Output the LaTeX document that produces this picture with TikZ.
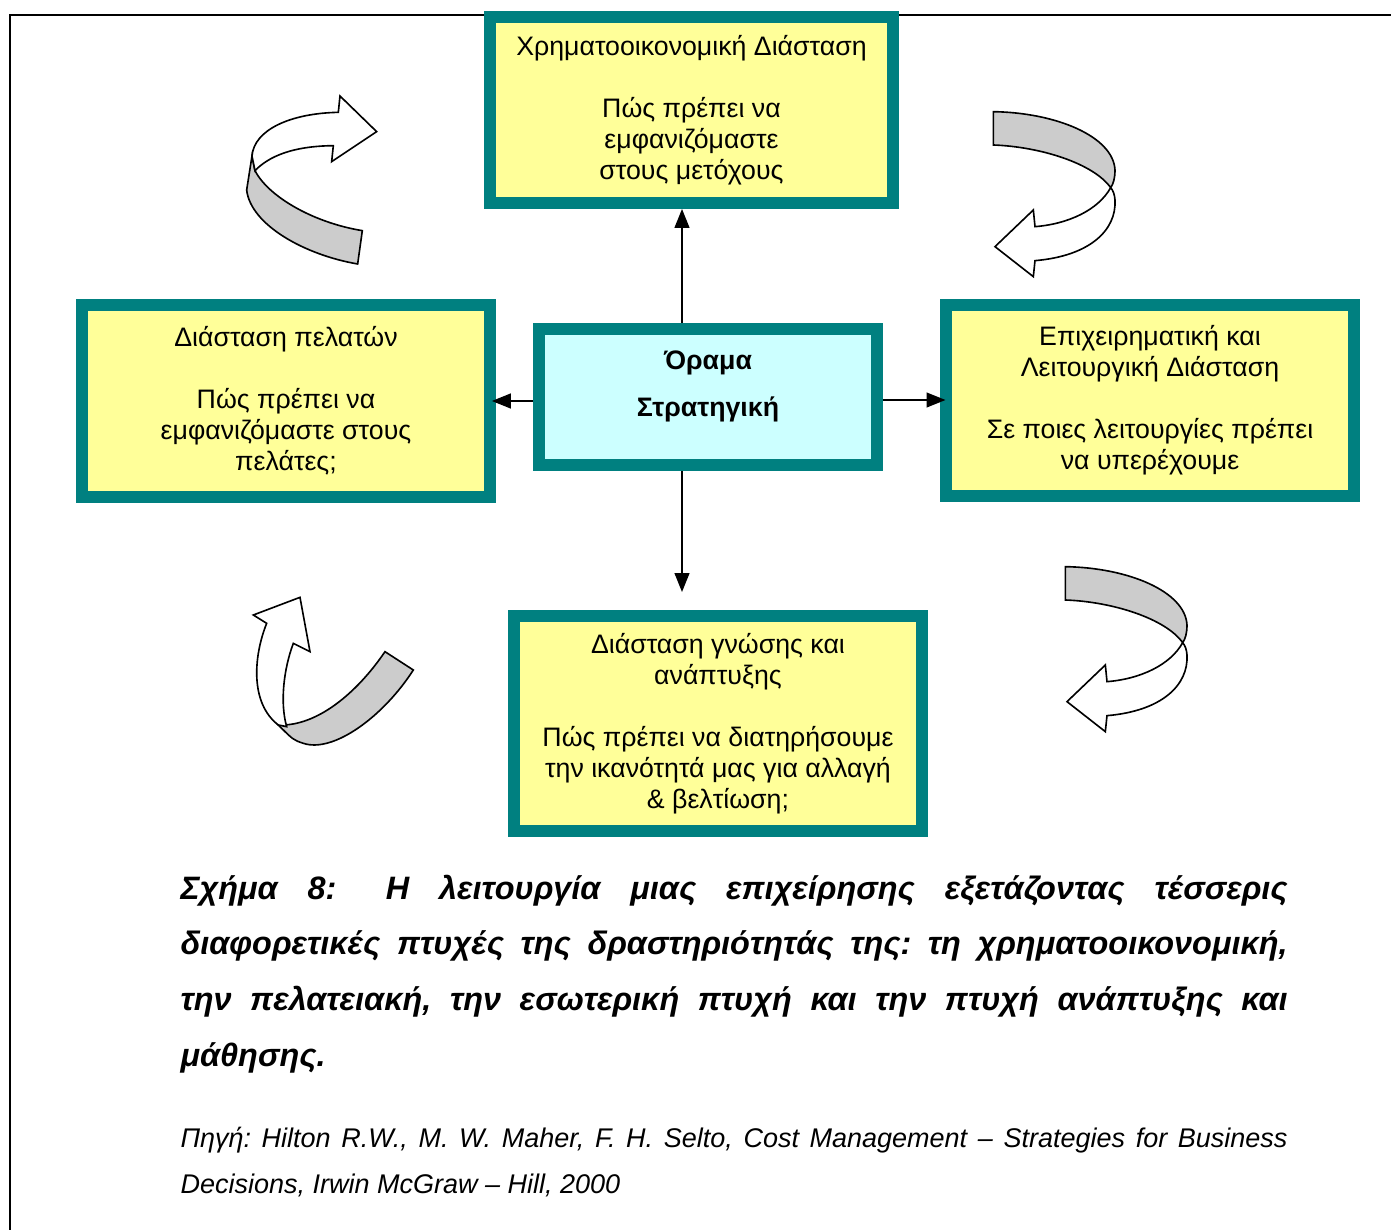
\documentclass[tikz,border=0pt]{standalone}
\usepackage{fontspec}
\setmainfont{Liberation Sans}
\usetikzlibrary{arrows.meta,positioning}
\definecolor{TealB}{RGB}{0,128,128}
\definecolor{YellowF}{RGB}{255,255,153}
\definecolor{CyanF}{RGB}{204,255,255}
\definecolor{RibbonG}{RGB}{204,204,204}
\frenchspacing

\tikzset{
  dimbox/.style={draw=TealB,fill=YellowF,line width=4.4pt,align=center,
                 inner sep=0pt,font=\fontsize{9.9}{11.5}\selectfont},
  flow/.style={-{Triangle[length=7pt,width=5.5pt]},line width=0.55pt},
  ribbon/.style={draw,line width=0.6pt,line join=miter},
  ribback/.style={ribbon,fill=RibbonG},
  ribfront/.style={ribbon,fill=white},
  notetext/.style={anchor=base west,inner sep=0pt,text width=410pt,align=justify}
}

\begin{document}
\begin{tikzpicture}[x=0.37037pt,y=-0.37037pt]
    \useasboundingbox (0,0) rectangle (1391,1230);
    % page frame
    \draw[line width=0.8pt] (1391,15) -- (10,15) -- (10,1230);

    % the five boxes
    \node[dimbox,minimum width=149.3pt,minimum height=68.9pt] (fin) at (691.5,110)
      {Χρηματοοικονομική Διάσταση\\[11.5pt]Πώς πρέπει να\\εμφανιζόμαστε\\στους μετόχους};
    \node[dimbox,minimum width=151.1pt,minimum height=71.1pt] (cust) at (286,401)
      {Διάσταση πελατών\\[11.5pt]Πώς πρέπει να\\εμφανιζόμαστε στους\\πελάτες;};
    \node[dimbox,minimum width=151.1pt,minimum height=70.7pt] (proc) at (1150,400.5)
      {Επιχειρηματική και\\Λειτουργική Διάσταση\\[11.5pt]Σε ποιες λειτουργίες πρέπει\\να υπερέχουμε};
    \node[dimbox,fill=CyanF,minimum width=125.2pt,minimum height=50.4pt,
          font=\fontsize{9.9}{11.5}\selectfont\bfseries] (vision) at (708,397)
      {Όραμα\\[6pt]Στρατηγική\\[-1.5pt]\mbox{}};
    \node[dimbox,minimum width=151.1pt,minimum height=79.6pt] (know) at (718,723.5)
      {Διάσταση γνώσης και\\ανάπτυξης\\[11.5pt]Πώς πρέπει να διατηρήσουμε\\την ικανότητά μας για αλλαγή\\\& βελτίωση;};

    % arrows out of the centre
    \draw[flow] (vision.north -| 682,0) -- (fin.south -| 682,0);
    \draw[flow,shorten >=6.7pt] (vision.south -| 682,0) -- (know.north -| 682,0);
    \draw[flow,shorten >=-1.5pt] (vision.west |- 0,401) -- (cust.east |- 0,401);
    \draw[flow,shorten >=-2pt] (vision.east |- 0,400) -- (proc.west |- 0,400);

    % curled arrows
    \begin{scope}[shift={(230,80)},scale=0.3333]
      \draw[ribback] (66,228) -- (50,330) .. controls (62,435) and (225,525) .. (383,552)
        -- (397,452) .. controls (250,428) and (115,350) .. (75,272) -- cycle;
      \draw[ribfront] (75,272) .. controls (130,215) and (220,198) .. (310,197) -- (305,245)
        -- (440,155) -- (330,48) -- (325,97) .. controls (180,100) and (72,150) .. (66,228) -- cycle;
    \end{scope}
    \foreach \ox/\oy in {980/100,1052/555}{
      \begin{scope}[shift={(\ox,\oy)},scale=0.3333]
        \draw[ribback] (40,35) .. controls (230,38) and (400,110) .. (405,210)
          .. controls (405,235) and (400,252) .. (392,263)
          .. controls (340,190) and (180,140) .. (40,135) -- cycle;
        \draw[ribfront] (392,263) .. controls (355,330) and (265,372) .. (165,380) -- (160,330)
          -- (45,440) -- (160,530) -- (165,482) .. controls (330,468) and (410,390) .. (405,300)
          .. controls (404,285) and (400,272) .. (392,263) -- cycle;
      \end{scope}
    }
    \begin{scope}[shift={(240,590)},scale=0.3333]
      \draw[ribback] (115,405) .. controls (230,410) and (350,310) .. (435,185) -- (520,240)
        .. controls (430,380) and (280,490) .. (190,460) .. controls (160,450) .. (115,405) -- cycle;
      \draw[ribfront] (115,405) .. controls (30,340) and (40,200) .. (80,100) -- (40,75)
        -- (180,22) -- (210,185) -- (160,160) .. controls (130,240) and (120,340) .. (140,410) -- cycle;
    \end{scope}

    % caption and source
    \node[notetext,font=\fontsize{12}{20.7}\selectfont\bfseries\itshape] (cap) at (180,899)
      {\hyphenpenalty=10000 Σχήμα 8:\hspace{0.6em} Η λειτουργία μιας επιχείρησης εξετάζοντας τέσσερις\linebreak
       διαφορετικές πτυχές της δραστηριότητάς της: τη χρηματοοικονομική,\linebreak
       την πελατειακή, την εσωτερική πτυχή και την πτυχή ανάπτυξης και\linebreak
       μάθησης.};
    \node[notetext,font=\fontsize{10}{17.25}\selectfont\itshape] (src) at (180,1147)
      {\hyphenpenalty=10000 Πηγή: Hilton R.W., M. W. Maher, F. H. Selto, Cost Management – Strategies for Business\linebreak
       Decisions, Irwin McGraw – Hill, 2000};
\end{tikzpicture}
\end{document}
